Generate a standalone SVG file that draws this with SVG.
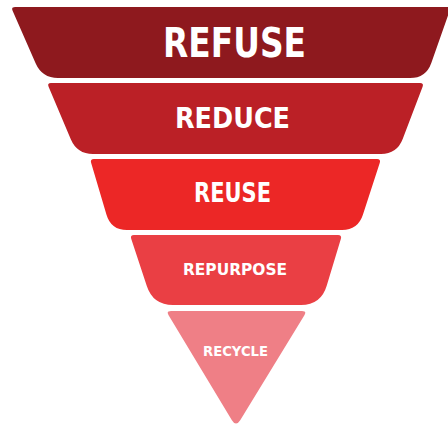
<svg xmlns="http://www.w3.org/2000/svg" width="448" height="426" viewBox="0 0 448 426">
  <style>
    .lbl { font-family: "DejaVu Sans", "Liberation Sans", sans-serif; font-weight: bold; fill: #ffffff; text-anchor: middle; }
  </style>
  <rect width="448" height="426" fill="#ffffff"/>
  <g id="refuse">
    <path d="M15,7 H447 Q451,7 449.7,10.8 L431.3,62.9 Q426,78 410,78 H58 Q42,78 35.6,63.3 L12.6,10.7 Q11,7 15,7 Z" fill="#8e191e"/>
    <text class="lbl" x="234.5" y="57" font-size="40" textLength="143" lengthAdjust="spacingAndGlyphs">REFUSE</text>
  </g>
  <g id="reduce">
    <path d="M51,83 H420 Q424,83 422.6,86.7 L402.7,139.1 Q397,154 381,154 H93 Q77,154 70.8,139.3 L48.6,86.7 Q47,83 51,83 Z" fill="#bb2026"/>
    <text class="lbl" x="232.5" y="128" font-size="28" textLength="115" lengthAdjust="spacingAndGlyphs">REDUCE</text>
  </g>
  <g id="reuse">
    <path d="M94,159 H377 Q381,159 379.8,162.8 L362.9,214.8 Q358,230 342,230 H127 Q111,230 106.5,214.7 L91.1,162.8 Q90,159 94,159 Z" fill="#ec2726"/>
    <text class="lbl" x="232.5" y="202" font-size="26" textLength="77" lengthAdjust="spacingAndGlyphs">REUSE</text>
  </g>
  <g id="repurpose">
    <path d="M134,235 H338 Q342,235 340.9,238.8 L326.7,285.8 Q321,305 301,305 H173 Q153,305 146.8,286 L131.2,238.8 Q130,235 134,235 Z" fill="#ea3f44"/>
    <text class="lbl" x="235" y="275" font-size="16.5" textLength="104" lengthAdjust="spacingAndGlyphs">REPURPOSE</text>
  </g>
  <g id="recycle">
    <path d="M171,311 H302 Q307,311 304.4,315.3 L240.2,420.2 Q236,427 231.9,420.2 L168.6,315.3 Q166,311 171,311 Z" fill="#ef7f86"/>
    <text class="lbl" x="235.5" y="356" font-size="14" textLength="65" lengthAdjust="spacingAndGlyphs">RECYCLE</text>
  </g>
  <g id="connectors"></g>
</svg>
